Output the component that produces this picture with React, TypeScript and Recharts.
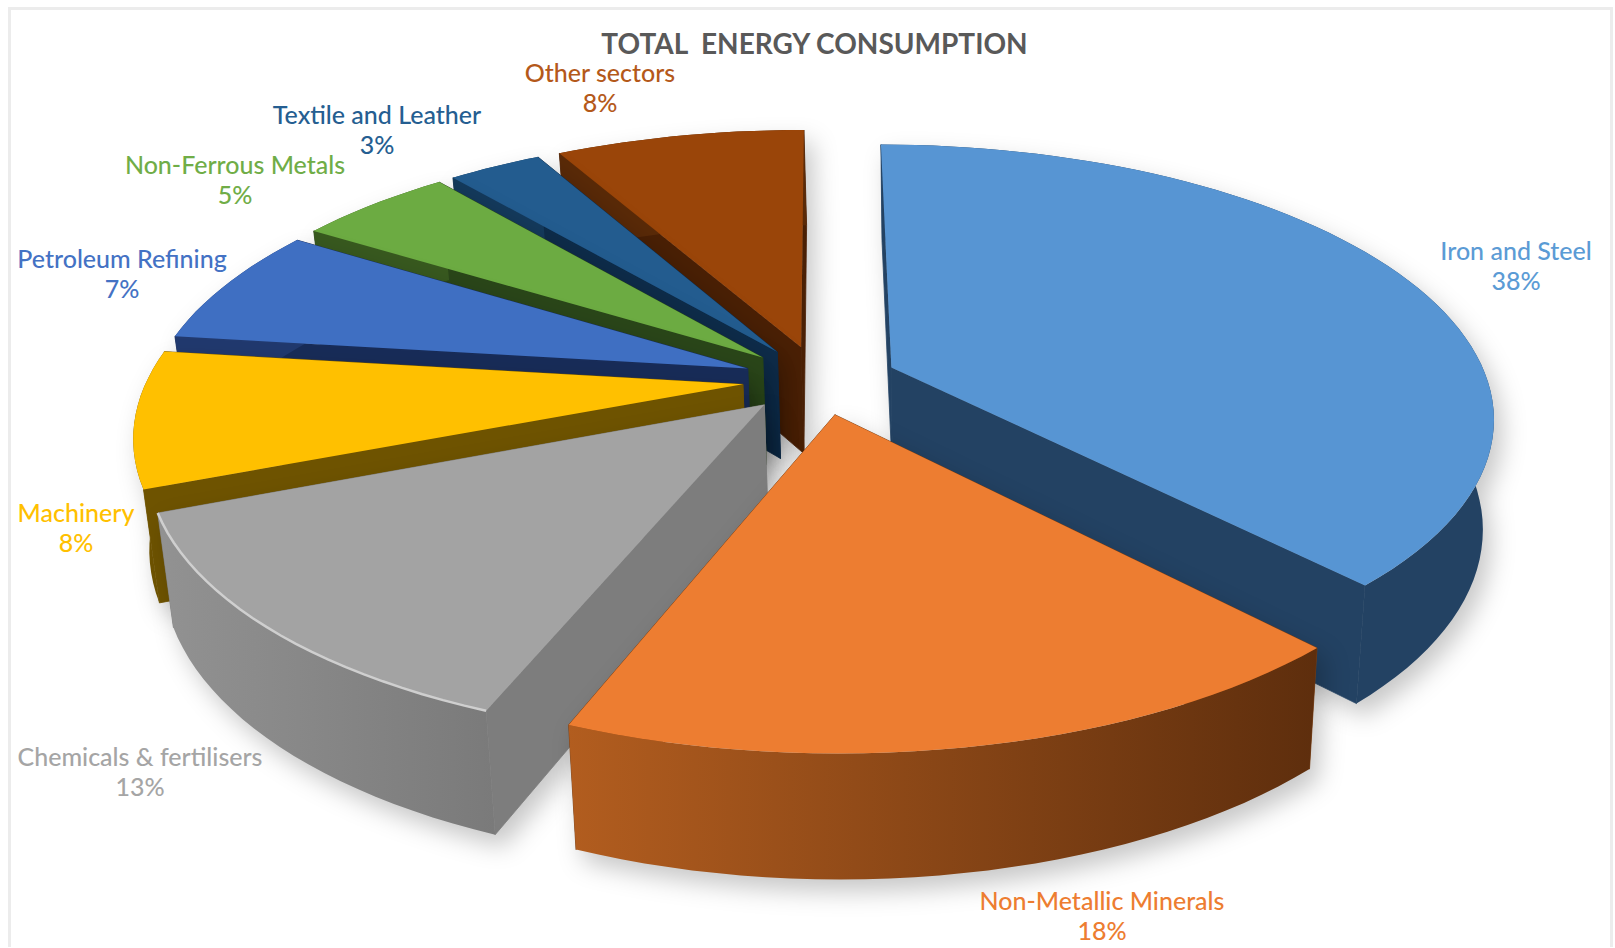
import { PieChart, Pie, Cell } from 'recharts';

// Listed from the back of the stack to the front so later slices paint over earlier ones.
const sectors = [
  'Iron and Steel',
  'Other sectors',
  'Textile and Leather',
  'Non-Ferrous Metals',
  'Petroleum Refining',
  'Machinery',
  'Chemicals & fertilisers',
  'Non-Metallic Minerals',
];
const shares = [38, 8, 3, 5, 7, 8, 13, 18];

const topColors = ['#5795d3', '#9a4509', '#235c8f', '#6cab42', '#3f6fc2', '#ffc000', '#a3a3a3', '#ed7d31'];
const sideColors = ['#234263', '#4a2005', '#0e2c4a', '#2a4619', '#182c58', '#6e5300', '#7d7d7d', '#7a3d12'];
const wallFrom = ['#234263', '#5a2a08', '#143a5c', '#38591f', '#21396e', '#6e5300', '#929292', '#b25d1f'];
const wallTo = ['#234263', '#5a2a08', '#143a5c', '#38591f', '#21396e', '#6e5300', '#7a7a7a', '#5e2e0d'];
const labelColors = ['#5b9bd5', '#b4591a', '#255e91', '#70ad47', '#4472c4', '#ffc000', '#a5a5a5', '#ed7d31'];

const labelSpots = [
  [1516, 260],
  [600, 82],
  [377, 124],
  [235, 174],
  [122, 268],
  [76, 522],
  [140, 766],
  [1102, 910],
];

const chartData = sectors.map((name, i) => ({ name, value: shares[i] }));

const FONT = 'Lato, "Open Sans", sans-serif';
const CX = 820;
const CY = 380;
const RADIUS = 596;
const TILT = 0.446; // vertical squash of the pie plane
const PERSPECTIVE = 0.175; // how fast the plane shrinks toward the back
const EXPLODE = 0.13; // slice offset, as a fraction of the radius
const DEPTH = 108;
const CONVERGE = 0.02; // vertical edges lean in toward a point right of the middle
const CONVERGE_AT = 0.2;

const rad = (deg: number) => (deg * Math.PI) / 180;

// pie plane (unit circle, y toward the back) to screen; level 1 is the bottom face
const project = (x: number, y: number, level: number, cx: number, cy: number, r: number) => {
  const w = 1 + PERSPECTIVE * y;
  const sx = (r * x) / w;
  const sy = (-r * TILT * y) / w;
  const lean = level * CONVERGE * (CONVERGE_AT * r - sx);
  return [cx + sx + lean, cy + sy + (level * DEPTH) / Math.pow(w, 0.7)];
};

const toPath = (pts: number[][]) =>
  pts.map((p, i) => `${i ? 'L' : 'M'}${p[0].toFixed(1)} ${p[1].toFixed(1)}`).join(' ') + ' Z';

const Slice3D = (props: any) => {
  const { cx, cy, outerRadius, startAngle, endAngle, index } = props;
  const mid = rad((startAngle + endAngle) / 2);
  const ox = EXPLODE * Math.cos(mid);
  const oy = EXPLODE * Math.sin(mid);

  const rim: number[][] = [];
  const steps = Math.max(8, Math.ceil(Math.abs(endAngle - startAngle) / 2));
  for (let s = 0; s <= steps; s++) {
    const a = rad(startAngle + ((endAngle - startAngle) * s) / steps);
    rim.push([ox + Math.cos(a), oy + Math.sin(a)]);
  }
  const at = (p: number[], level: number) => project(p[0], p[1], level, cx, cy, outerRadius);
  const apex = [ox, oy];

  const topRim = rim.map((p) => at(p, 0));
  const lowRim = rim.map((p) => at(p, 1));
  const first = rim[0];
  const last = rim[rim.length - 1];
  const gradId = `wall-${index}`;
  const sideStroke = { stroke: sideColors[index], strokeWidth: 0.8 };

  return (
    <g style={{ filter: 'drop-shadow(8px 12px 12px rgba(0,0,0,0.22))' }}>
      <defs>
        <linearGradient id={gradId} x1="0" y1="0" x2="1" y2="0">
          <stop offset="0%" stopColor={wallFrom[index]} />
          <stop offset="100%" stopColor={wallTo[index]} />
        </linearGradient>
      </defs>
      <path d={toPath([at(apex, 0), at(first, 0), at(first, 1), at(apex, 1)])} fill={sideColors[index]} {...sideStroke} />
      <path d={toPath([at(apex, 0), at(last, 0), at(last, 1), at(apex, 1)])} fill={sideColors[index]} {...sideStroke} />
      <path d={toPath([...topRim, ...lowRim.slice().reverse()])} fill={`url(#${gradId})`} />
      <path d={toPath([at(apex, 0), ...topRim])} fill={topColors[index]} />
      {sectors[index].startsWith('Chemicals') && (
        <path
          d={toPath(topRim).replace(' Z', '')}
          fill="none"
          stroke="#cfcfcf"
          strokeWidth={2.5}
        />
      )}
    </g>
  );
};

const renderLabel = (props: any) => {
  const { index, value } = props;
  const [x, y] = labelSpots[index];
  return (
    <text
      x={x}
      y={y}
      textAnchor="middle"
      fontFamily={FONT}
      fontSize={25}
      fontWeight={500}
      fill={labelColors[index]}
    >
      <tspan x={x}>{sectors[index]}</tspan>
      <tspan x={x} dy={30}>{`${value}%`}</tspan>
    </text>
  );
};

const startAt = 90 - (shares[0] / 100) * 360;

export default function App() {
  return (
    <div style={{ position: 'absolute', left: 0, top: 0, width: 1615, height: 948, background: '#fff' }}>
      <div
        style={{
          position: 'absolute',
          left: 8,
          top: 7,
          width: 1605,
          height: 960,
          border: '3px solid #ececec',
          boxSizing: 'border-box',
          clipPath: 'inset(0 0 20px 0)',
        }}
      />
      <div
        style={{
          position: 'absolute',
          left: 0,
          right: 0,
          top: 26,
          paddingLeft: 14,
          textAlign: 'center',
          fontFamily: FONT,
          fontSize: 28,
          fontWeight: 700,
          color: '#595959',
          whiteSpace: 'pre',
        }}
      >
        TOTAL  ENERGY CONSUMPTION
      </div>
      <div style={{ position: 'absolute', left: 0, top: 0 }}>
        <PieChart width={1615} height={948} margin={{ top: 0, right: 0, bottom: 0, left: 0 }}>
          <Pie
            data={chartData}
            dataKey="value"
            nameKey="name"
            cx={CX}
            cy={CY}
            innerRadius={0}
            outerRadius={RADIUS}
            startAngle={startAt}
            endAngle={startAt + 360}
            stroke="none"
            shape={Slice3D}
            label={renderLabel}
            labelLine={false}
            isAnimationActive={false}
          >
            {chartData.map((d, i) => (
              <Cell key={d.name} fill={topColors[i]} />
            ))}
          </Pie>
        </PieChart>
      </div>
    </div>
  );
}
